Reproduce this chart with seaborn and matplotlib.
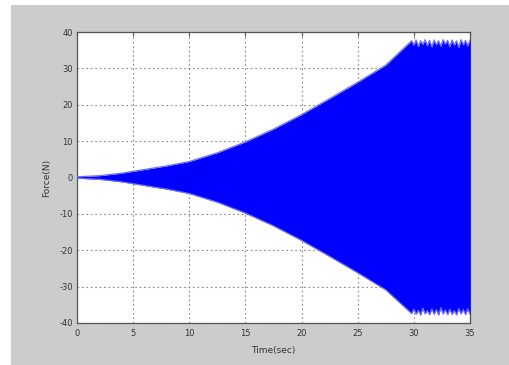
import matplotlib
matplotlib.use("Agg")
import matplotlib.pyplot as plt
import seaborn as sns
import pandas as pd
from matplotlib.patches import Rectangle

# Envelope of the force response (N) against time (s)
time_s = [0.0, 2.0, 4.0, 6.0, 8.0, 10.0, 12.5, 15.0, 17.5, 20.0, 22.5, 25.0,
          27.5, 29.8,
          30.0, 30.2, 30.4, 30.6, 30.8, 31.0, 31.2, 31.4, 31.6, 31.8, 32.0,
          32.2, 32.4, 32.6, 32.8, 33.0, 33.2, 33.4, 33.6, 33.8, 34.0, 34.2,
          34.4, 34.6, 34.8, 35.0]
force_upper = [0.2, 0.5, 1.2, 2.2, 3.2, 4.4, 6.8, 9.8, 13.3, 17.3, 21.7, 26.2,
               30.9, 37.6,
               36.4, 37.8, 36.0, 37.6, 36.6, 37.9, 36.2, 37.7, 35.9, 37.8, 36.5,
               37.6, 36.1, 37.9, 36.7, 37.7, 36.0, 37.8, 36.4, 37.6, 35.8, 37.9,
               36.5, 37.7, 36.2, 37.8]
force_lower = [-0.2, -0.5, -1.2, -2.2, -3.2, -4.4, -6.8, -9.8, -13.3, -17.3, -21.7, -26.2,
               -30.9, -37.4,
               -36.2, -37.6, -36.5, -37.8, -35.9, -37.5, -36.6, -37.7, -36.1, -37.6, -36.3,
               -37.8, -35.8, -37.5, -36.4, -37.7, -36.2, -37.6, -36.6, -37.8, -36.0, -37.5,
               -36.3, -37.7, -36.1, -37.6]

x_ticks = [0, 5, 10, 15, 20, 25, 30, 35]
y_ticks = [-40, -30, -20, -10, 0, 10, 20, 30, 40]

df = pd.DataFrame({"t": time_s, "upper": force_upper, "lower": force_lower})

sns.set_style("white")
plt.rcParams["font.family"] = ["DejaVu Sans"]

fig = plt.figure(figsize=(5.10, 3.65), dpi=100, facecolor="white")
# grey figure panel
fig.patches.append(Rectangle((11 / 510, 0), 499 / 510, 360 / 365,
                             transform=fig.transFigure, facecolor="#cccccc",
                             edgecolor="none", zorder=-5))

ax = fig.add_axes([77 / 510, 42 / 365, 393 / 510, 291 / 365])
ax.set_zorder(2)
ax.set_facecolor("white")

blue = "#0000ff"
ax.fill_between(df["t"], df["lower"], df["upper"], color=blue, lw=0, zorder=3)
sns.lineplot(data=df, x="t", y="upper", ax=ax, color="#7070ff", lw=0.9, zorder=3)
sns.lineplot(data=df, x="t", y="lower", ax=ax, color="#7070ff", lw=0.9, zorder=3)

ax.set_xlim(0, 35)
ax.set_ylim(-40, 40)
ax.set_xticks(x_ticks)
ax.set_yticks(y_ticks)
ax.set_xticklabels([str(v) for v in x_ticks], fontsize=6, color="#333333")
ax.set_yticklabels([str(v) for v in y_ticks], fontsize=6, color="#333333")
ax.tick_params(axis="both", direction="in", length=3, width=0.8,
               color="#555555", top=True, right=True)
ax.tick_params(axis="x", pad=4)
ax.tick_params(axis="y", pad=3)
ax.grid(True, color="#888888", linestyle=(0, (1.5, 2.5)), lw=0.8, zorder=1)
for s in ax.spines.values():
    s.set_color("#555555")
    s.set_linewidth(0.9)
    s.set_visible(True)

ax.set_xlabel("Time(sec)", fontsize=6.5, color="#333333", labelpad=6)
ax.set_ylabel("Force(N)", fontsize=6.5, color="#333333", labelpad=6)

fig.savefig("out.png", dpi=100, facecolor="white")
